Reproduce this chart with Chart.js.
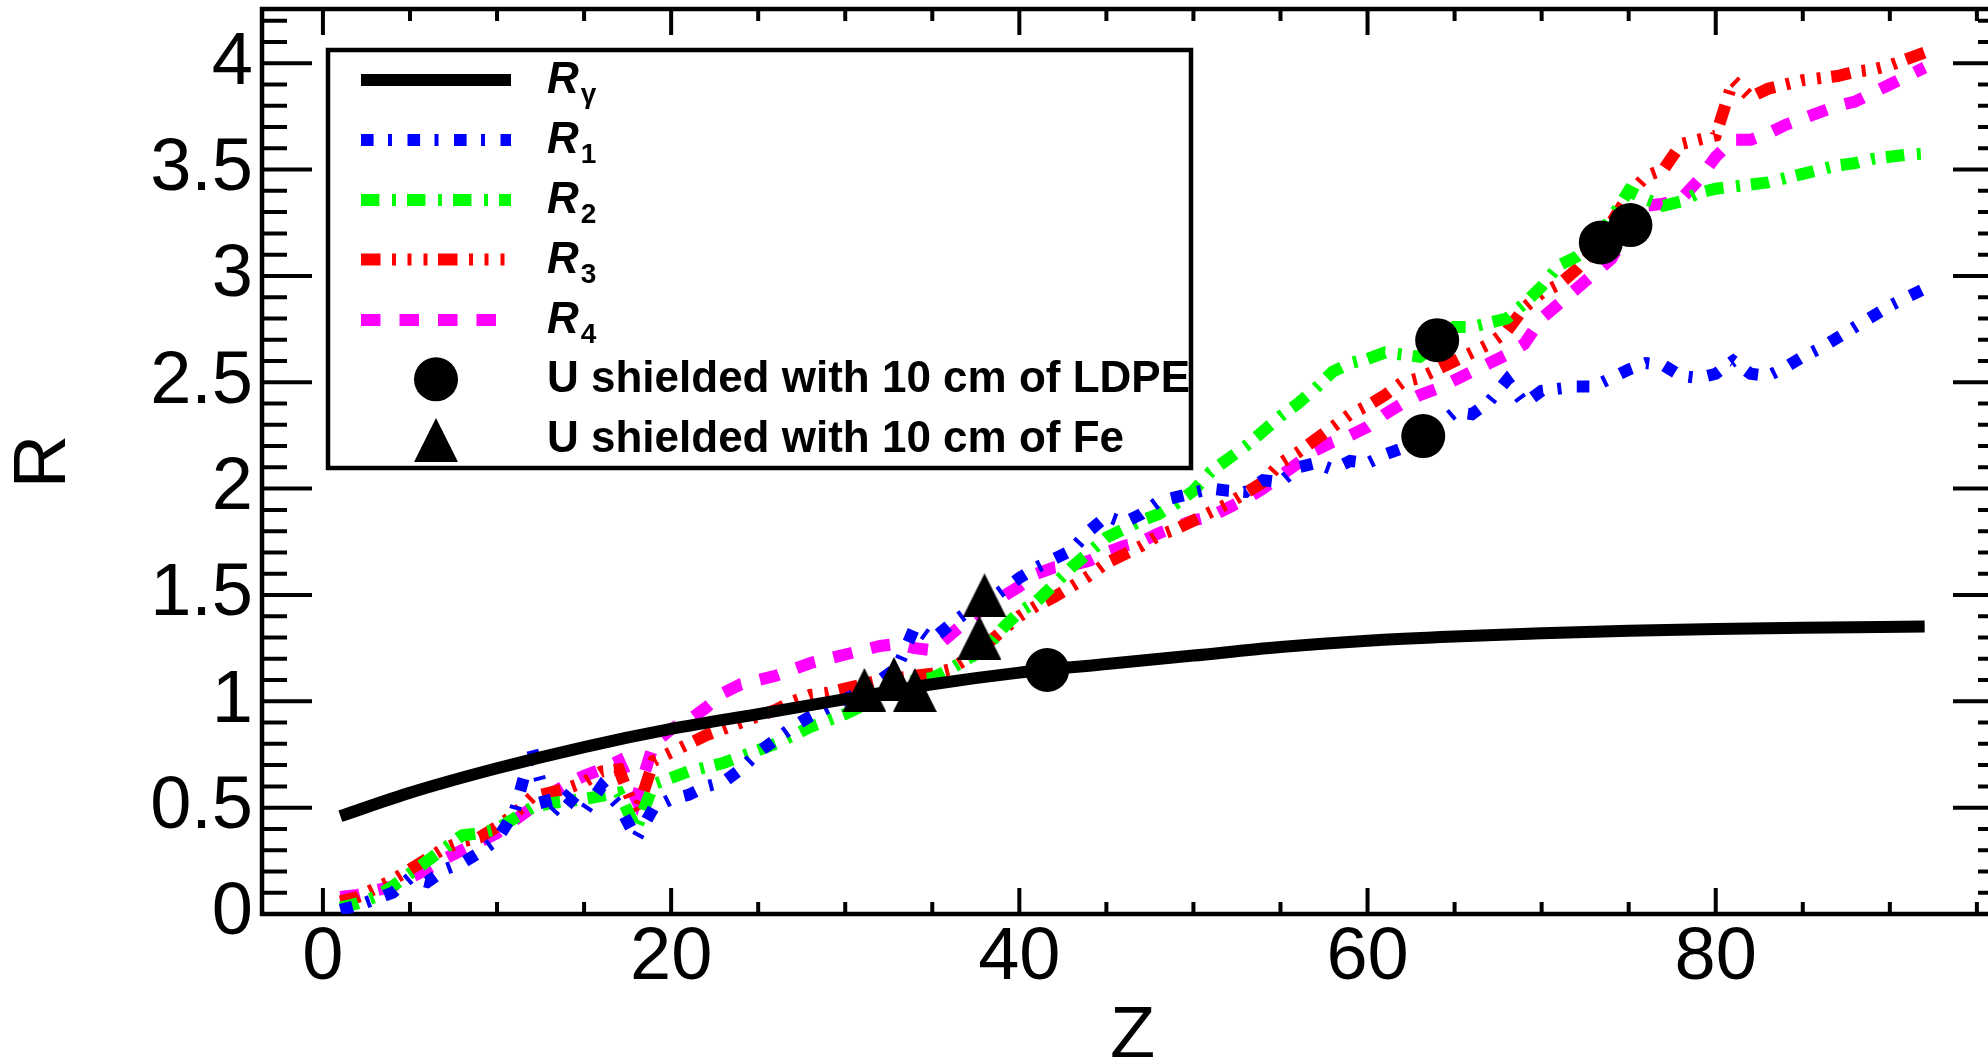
<!DOCTYPE html>
<html>
<head>
<meta charset="utf-8">
<title>R versus Z</title>
<script src="https://cdn.jsdelivr.net/npm/chart.js@4.4.1/dist/chart.umd.min.js"></script>
<style>
  html, body { margin: 0; padding: 0; overflow: hidden; background: #fff; }
  #wrap { width: 2010px; height: 1100px; }
</style>
</head>
<body>
<div id="wrap"><canvas id="ratio-chart" width="2010" height="1100"></canvas></div>
<script>
// Atoomnummers waarop R1..R4 berekend zijn
const zSeries = [
  1, 2, 3, 4, 5, 6, 7, 8, 9, 10,
  11, 12, 13, 14, 15, 16, 17, 18, 19, 20,
  21, 22, 23, 24, 25, 26, 27, 28, 29, 30,
  31, 32, 33, 34, 35, 36, 37, 38, 39, 40,
  41, 42, 43, 44, 45, 46, 47, 48, 49, 50,
  51, 52, 53, 54, 55, 56, 57, 58, 59, 60,
  61, 62, 63, 64, 65, 66, 67, 68, 69, 70,
  71, 72, 73, 74, 75, 76, 77, 78, 79, 80,
  81, 82, 83, 84, 85, 86, 87, 88, 89, 90,
  91, 92
];

const r1Values = [
  0.02, 0.04, 0.07, 0.10, 0.17, 0.15, 0.21, 0.24, 0.29, 0.35,
  0.48, 0.78, 0.46, 0.55, 0.48, 0.60, 0.51, 0.355, 0.50, 0.54,
  0.56, 0.60, 0.62, 0.68, 0.76, 0.82, 0.88, 0.93, 0.97, 1.01,
  1.05, 1.10, 1.16, 1.35, 1.29, 1.36, 1.42, 1.46, 1.52, 1.58,
  1.63, 1.67, 1.71, 1.80, 1.87, 1.84, 1.88, 1.94, 1.96, 1.98,
  2.00, 1.99, 1.985, 2.04, 2.03, 2.10, 2.12, 2.09, 2.13, 2.12,
  2.16, 2.19, 2.24, 2.29, 2.36, 2.35, 2.41, 2.51, 2.40, 2.46,
  2.47, 2.48, 2.48, 2.52, 2.56, 2.59, 2.58, 2.53, 2.52, 2.54,
  2.60, 2.54, 2.53, 2.57, 2.62, 2.66, 2.71, 2.76, 2.81, 2.86,
  2.90, 2.94
];

const r2Values = [
  0.03, 0.05, 0.08, 0.13, 0.19, 0.25, 0.31, 0.37, 0.38, 0.40,
  0.45, 0.50, 0.52, 0.53, 0.54, 0.555, 0.57, 0.40, 0.61, 0.64,
  0.67, 0.69, 0.71, 0.74, 0.77, 0.80, 0.84, 0.88, 0.91, 0.94,
  0.98, 1.03, 1.06, 1.10, 1.11, 1.15, 1.20, 1.24, 1.34, 1.42,
  1.47, 1.55, 1.63, 1.70, 1.77, 1.81, 1.85, 1.88, 1.93, 1.99,
  2.08, 2.14, 2.20, 2.27, 2.34, 2.40, 2.47, 2.55, 2.59, 2.61,
  2.64, 2.63, 2.62, 2.68, 2.76, 2.76, 2.78, 2.80, 2.87, 2.95,
  3.05, 3.09, 3.16, 3.27, 3.40, 3.36, 3.33, 3.35, 3.39, 3.41,
  3.42, 3.43, 3.44, 3.46, 3.48, 3.50, 3.52, 3.53, 3.55, 3.56,
  3.57, 3.575
];

const r3Values = [
  0.06, 0.08, 0.12, 0.16, 0.21, 0.26, 0.31, 0.34, 0.36, 0.41,
  0.47, 0.55, 0.57, 0.59, 0.62, 0.67, 0.68, 0.47, 0.72, 0.76,
  0.80, 0.84, 0.87, 0.90, 0.93, 0.96, 1.00, 1.03, 1.04, 1.06,
  1.08, 1.10, 1.11, 1.12, 1.13, 1.15, 1.20, 1.26, 1.33, 1.40,
  1.45, 1.49, 1.54, 1.59, 1.65, 1.69, 1.73, 1.78, 1.81, 1.85,
  1.89, 1.93, 1.98, 2.03, 2.12, 2.17, 2.23, 2.29, 2.35, 2.39,
  2.44, 2.50, 2.52, 2.56, 2.60, 2.64, 2.68, 2.74, 2.85, 2.92,
  2.96, 3.03, 3.12, 3.25, 3.38, 3.47, 3.50, 3.62, 3.64, 3.66,
  3.92, 3.84, 3.88, 3.90, 3.92, 3.93, 3.94, 3.96, 3.97, 3.99,
  4.02, 4.05
];

const r4Values = [
  0.08, 0.09, 0.11, 0.13, 0.17, 0.21, 0.26, 0.30, 0.34, 0.38,
  0.44, 0.50, 0.56, 0.61, 0.65, 0.68, 0.72, 0.54, 0.80, 0.87,
  0.91, 0.97, 1.04, 1.08, 1.10, 1.12, 1.15, 1.18, 1.20, 1.22,
  1.24, 1.26, 1.27, 1.25, 1.24, 1.31, 1.38, 1.44, 1.49, 1.54,
  1.60, 1.63, 1.64, 1.66, 1.70, 1.73, 1.75, 1.79, 1.82, 1.85,
  1.87, 1.91, 1.95, 2.00, 2.06, 2.12, 2.18, 2.22, 2.25, 2.29,
  2.35, 2.40, 2.44, 2.47, 2.51, 2.55, 2.59, 2.63, 2.68, 2.80,
  2.87, 2.94, 3.01, 3.08, 3.22, 3.33, 3.34, 3.36, 3.45, 3.56,
  3.64, 3.64, 3.67, 3.71, 3.74, 3.77, 3.80, 3.82, 3.86, 3.90,
  3.94, 3.98
];

// Gladde R_gamma-kromme
const zGamma = [1, 5, 10, 15, 20, 25, 30, 35, 40, 45, 50, 55, 60, 65, 70, 75, 80, 85, 92];
const rGamma = [0.46, 0.57, 0.685, 0.785, 0.87, 0.94, 1.01, 1.08, 1.135, 1.175, 1.215, 1.255, 1.285, 1.305, 1.32, 1.332, 1.34, 1.346, 1.352];

// Metingen: U afgeschermd met LDPE en met Fe
const zLdpe = [41.6, 63.2, 64.0, 73.4, 75.1];
const rLdpe = [1.147, 2.247, 2.698, 3.157, 3.239];
const zFe = [31.1, 32.8, 34.0, 37.7, 38.0];
const rFe = [1.053, 1.105, 1.053, 1.30, 1.498];

// As-labels
const xTickValues = [0, 20, 40, 60, 80];
const yTickValues = [0, 0.5, 1, 1.5, 2, 2.5, 3, 3.5, 4];

// Legenda-teksten (hoofdtekst + subscript)
const legendMain = ['R', 'R', 'R', 'R', 'R', 'U shielded with 10 cm of LDPE', 'U shielded with 10 cm of Fe'];
const legendSub = ['\u03b3', '1', '2', '3', '4', '', ''];

const fontFamily = '"Liberation Sans", Arial, Helvetica, sans-serif';

let ratioChart;

function toPoints(zs, rs) {
    return zs.map((z, i) => ({ x: z, y: rs[i] }));
}

// Driehoek als eigen puntstijl (iets hoger dan gelijkzijdig)
function makeTriangle(w, h) {
    const c = document.createElement('canvas');
    c.width = w;
    c.height = h;
    const g = c.getContext('2d');
    g.fillStyle = '#000';
    g.beginPath();
    g.moveTo(w / 2, 0);
    g.lineTo(w, h);
    g.lineTo(0, h);
    g.closePath();
    g.fill();
    return c;
}

const triangleMarker = makeTriangle(44, 44);

// Schaal vast op een breedte/hoogte zetten en de automatische labelruimte weghalen
function fixScaleSize(scale, prop, size) {
    scale[prop] = size;
    scale.paddingLeft = 0;
    scale.paddingRight = 0;
    scale.paddingTop = 0;
    scale.paddingBottom = 0;
}

// Kader met naar binnen wijzende streepjes aan alle vier de zijden
const axisFrame = {
    id: 'axisFrame',
    beforeDatasetsDraw(chart) {
        const { ctx, chartArea: a, scales: { x, y } } = chart;
        ctx.save();
        ctx.strokeStyle = '#000';
        ctx.lineWidth = 4;
        ctx.lineCap = 'butt';
        ctx.beginPath();
        for (let v = 0; v <= 95; v += 5) {
            const px = x.getPixelForValue(v);
            const len = v % 20 === 0 ? 26 : 12;
            ctx.moveTo(px, a.bottom);
            ctx.lineTo(px, a.bottom - len);
            ctx.moveTo(px, a.top);
            ctx.lineTo(px, a.top + len);
        }
        for (let k = 0; k <= 42; k++) {
            const py = y.getPixelForValue(k / 10);
            const len = k % 5 === 0 ? 50 : 25;
            ctx.moveTo(a.left, py);
            ctx.lineTo(a.left + len, py);
            ctx.moveTo(a.right, py);
            ctx.lineTo(a.right - len, py);
        }
        ctx.stroke();
        ctx.lineWidth = 4.5;
        ctx.strokeRect(a.left, a.top, a.right - a.left, a.bottom - a.top);
        ctx.restore();
    }
};

// Volgorde van de datasets in de legenda
const legendOrder = [0, 1, 2, 3, 4, 5, 6];

// Legenda in een kader linksboven, met subscripts
const boxLegend = {
    id: 'boxLegend',
    afterDraw(chart) {
        const ctx = chart.ctx;
        const box = { left: 328, top: 50, width: 863, height: 418 };
        const rowY = [80, 140, 200, 259.5, 320, 379.3, 440];
        const sampleStart = 361;
        const sampleEnd = 511;
        const markerX = 436;
        const textX = 547;

        ctx.save();
        ctx.fillStyle = '#fff';
        ctx.fillRect(box.left, box.top, box.width, box.height);
        ctx.strokeStyle = '#000';
        ctx.lineWidth = 4.5;
        ctx.strokeRect(box.left, box.top, box.width, box.height);

        legendOrder.forEach((idx, row) => {
            const ds = chart.data.datasets[idx];
            const y = rowY[row];

            if (ds.showLine === false) {
                ctx.fillStyle = '#000';
                if (ds.pointStyle === 'circle') {
                    ctx.beginPath();
                    ctx.arc(markerX, y, ds.pointRadius, 0, Math.PI * 2);
                    ctx.fill();
                } else {
                    ctx.drawImage(ds.pointStyle, markerX - ds.pointStyle.width / 2, y - ds.pointStyle.height / 2);
                }
            } else {
                ctx.beginPath();
                ctx.setLineDash(ds.borderDash || []);
                ctx.lineCap = 'butt';
                ctx.lineWidth = ds.borderWidth;
                ctx.strokeStyle = ds.borderColor;
                ctx.moveTo(sampleStart, y);
                ctx.lineTo(sampleEnd, y);
                ctx.stroke();
                ctx.setLineDash([]);
            }

            ctx.fillStyle = '#000';
            ctx.textAlign = 'left';
            ctx.textBaseline = 'alphabetic';
            if (legendSub[row]) {
                ctx.font = 'italic bold 44px ' + fontFamily;
                ctx.fillText(legendMain[row], textX, y + 13.3);
                const w = ctx.measureText(legendMain[row]).width;
                ctx.font = 'bold 28px ' + fontFamily;
                ctx.fillText(legendSub[row], textX + w + 2, y + 23);
            } else {
                ctx.font = 'bold 44px ' + fontFamily;
                ctx.fillText(legendMain[row], textX, y + 12.4);
            }
        });
        ctx.restore();
    }
};

function initializeRatioChart() {
    const canvas = document.getElementById('ratio-chart');
    const ctx = canvas.getContext('2d');

    if (ratioChart) {
        ratioChart.destroy();
    }

    const lineBase = {
        pointRadius: 0,
        borderWidth: 12,
        borderCapStyle: 'butt',
        borderJoinStyle: 'miter',
        tension: 0,
        fill: false
    };

    ratioChart = new Chart(ctx, {
        type: 'line',
        data: {
            datasets: [
                {
                    label: 'R\u03b3',
                    data: toPoints(zGamma, rGamma),
                    borderColor: '#000000',
                    borderWidth: 12,
                    pointRadius: 0,
                    cubicInterpolationMode: 'monotone',
                    fill: false,
                    order: 1
                },
                Object.assign({}, lineBase, {
                    label: 'R1',
                    data: toPoints(zSeries, r1Values),
                    borderColor: '#0000ff',
                    borderDash: [12.6, 14.4, 4, 15.5],
                    order: 2
                }),
                Object.assign({}, lineBase, {
                    label: 'R2',
                    data: toPoints(zSeries, r2Values),
                    borderColor: '#00ff00',
                    borderDash: [18.4, 12.6, 4, 11],
                    order: 3
                }),
                Object.assign({}, lineBase, {
                    label: 'R3',
                    data: toPoints(zSeries, r3Values),
                    borderColor: '#ff0000',
                    borderDash: [19.5, 11.5, 4, 11.5, 4, 12, 4, 10.5],
                    order: 4
                }),
                Object.assign({}, lineBase, {
                    label: 'R4',
                    data: toPoints(zSeries, r4Values),
                    borderColor: '#ff00ff',
                    borderDash: [19.5, 19],
                    order: 5
                }),
                {
                    label: 'U shielded with 10 cm of LDPE',
                    data: toPoints(zLdpe, rLdpe),
                    showLine: false,
                    pointStyle: 'circle',
                    pointRadius: 22,
                    pointBorderWidth: 0,
                    pointBackgroundColor: '#000',
                    order: 0
                },
                {
                    label: 'U shielded with 10 cm of Fe',
                    data: toPoints(zFe, rFe),
                    showLine: false,
                    pointStyle: triangleMarker,
                    pointRadius: 22,
                    pointBorderWidth: 0,
                    pointBackgroundColor: '#000',
                    order: 0
                }
            ]
        },
        options: {
            responsive: false,
            animation: false,
            devicePixelRatio: 1,
            layout: {
                autoPadding: false,
                padding: { left: 0, right: 7, top: 9, bottom: 0 }
            },
            plugins: {
                legend: { display: false },
                tooltip: { enabled: false }
            },
            scales: {
                x: {
                    type: 'linear',
                    min: -3.5,
                    max: 96.5,
                    grid: { display: false, drawTicks: false },
                    border: { display: false },
                    afterBuildTicks: scale => {
                        scale.ticks = xTickValues.map(v => ({ value: v }));
                    },
                    afterFit: scale => fixScaleSize(scale, 'height', 186),
                    ticks: {
                        padding: 0,
                        autoSkip: false,
                        maxRotation: 0,
                        color: '#000',
                        font: { family: fontFamily, size: 74 },
                        callback: value => String(value)
                    },
                    title: {
                        display: true,
                        text: 'Z',
                        color: '#000',
                        font: { family: fontFamily, size: 74 },
                        padding: { top: 0, bottom: 18 }
                    }
                },
                y: {
                    type: 'linear',
                    min: 0,
                    max: 4.255,
                    grid: { display: false, drawTicks: false },
                    border: { display: false },
                    afterBuildTicks: scale => {
                        scale.ticks = yTickValues.map(v => ({ value: v }));
                    },
                    afterFit: scale => fixScaleSize(scale, 'width', 262),
                    ticks: {
                        padding: 9,
                        autoSkip: false,
                        color: '#000',
                        font: { family: fontFamily, size: 74 },
                        callback: value => String(value)
                    },
                    title: {
                        display: true,
                        text: 'R',
                        color: '#000',
                        font: { family: fontFamily, size: 74 },
                        padding: { top: 0, bottom: 0 }
                    }
                }
            }
        },
        plugins: [axisFrame, boxLegend]
    });
}

initializeRatioChart();
</script>
</body>
</html>
